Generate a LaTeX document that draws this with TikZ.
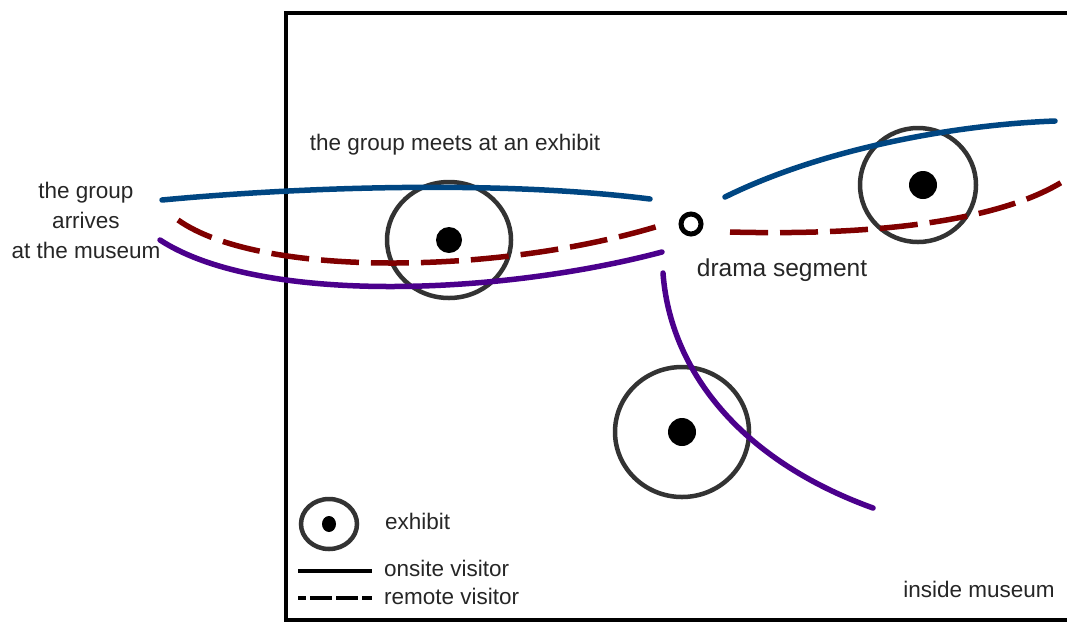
\documentclass[tikz,border=0pt]{standalone}
\usepackage{fontspec}
\setmainfont{Liberation Sans}
\definecolor{onsiteblue}{RGB}{0,70,130}
\definecolor{remotered}{RGB}{128,0,0}
\definecolor{pathpurple}{RGB}{75,0,140}
\definecolor{exgray}{RGB}{51,51,51}
\begin{document}
\begin{tikzpicture}[x=1pt,y=-1pt,
  lbl/.style={font=\fontsize{22.5}{30}\selectfont, text=black!85, inner sep=0pt},
  onsite/.style={line width=5.5pt, line cap=round},
  remote/.style={line width=5.5pt, dash pattern=on 38pt off 12pt},
  exring/.style={draw=exgray, line width=4.5pt},
  exdot/.style={fill=black}]
\useasboundingbox (0,0) rectangle (1067,622);
% frame
\draw[line width=4pt] (1070,13) -- (286,13) -- (286,620) -- (1070,620);
% exhibits
\draw[exring] (449,240) ellipse [x radius=62, y radius=58];
\fill[exdot] (449,240) ellipse [x radius=13, y radius=13];
\draw[exring] (918,185) ellipse [x radius=58, y radius=57];
\fill[exdot] (923,185) circle (14);
\draw[exring] (682,432) ellipse [x radius=67, y radius=65];
\fill[exdot] (682,432) circle (14);
% drama segment
\draw[line width=5pt] (691,224) circle (10);
% blue
\draw[onsite, draw=onsiteblue] (162,200) .. controls (300,187) and (500,180) .. (650,199);
\draw[onsite, draw=onsiteblue] (725,197) .. controls (820,150) and (950,125) .. (1055,121);
% red
\draw[remote, draw=remotered] (178,220) .. controls (260,278) and (500,275) .. (662,225);
\draw[remote, draw=remotered] (730,232) .. controls (880,236) and (1000,220) .. (1062,182);
% purple
\draw[onsite, draw=pathpurple] (160,240) .. controls (260,305) and (500,295) .. (662,252);
\draw[onsite, draw=pathpurple] (663,273) .. controls (670,370) and (740,460) .. (873,508);
% texts
\node[lbl] (meets) at (455,145) {the group meets at an exhibit};
\node[lbl, align=center] (arrives) at (86,220) {the group\\arrives\\at the museum};
\node[lbl, font=\fontsize{24.5}{30}\selectfont] (drama) at (782,270) {drama segment};
\node[lbl] (inside) at (979,589) {inside museum};
% legend
\draw[exring] (329,524) ellipse [x radius=28, y radius=25];
\fill[exdot] (329,524) ellipse [x radius=7, y radius=8];
\node[lbl, anchor=west] (lex) at (385,521) {exhibit};
\draw[line width=4pt] (298,571) -- (372,571);
\node[lbl, anchor=west] (lon) at (384,568) {onsite visitor};
\draw[line width=4pt, dash pattern=on 8pt off 4pt on 22pt off 4pt on 22pt off 4pt on 10pt] (298,598) -- (374,598);
\node[lbl, anchor=west] (lre) at (384,596) {remote visitor};
\end{tikzpicture}
\end{document}
